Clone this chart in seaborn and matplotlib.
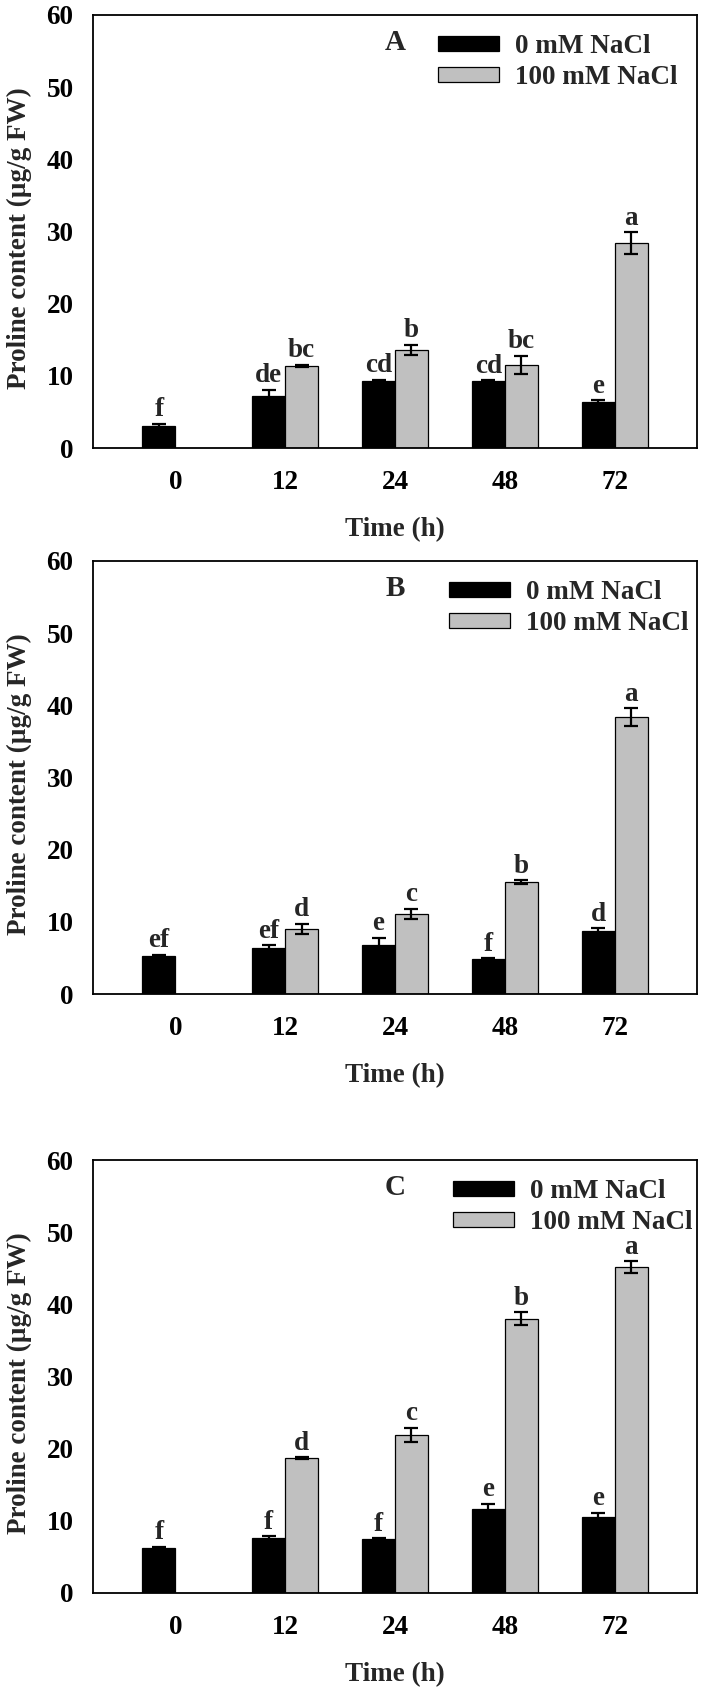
import numpy as np
import pandas as pd
import matplotlib
matplotlib.use("Agg")
import matplotlib.pyplot as plt
import matplotlib.transforms as mtransforms
from matplotlib.patches import Patch
import seaborn as sns

# ---------------- data ----------------
times = ["0", "12", "24", "48", "72"]
treatments = ["0 mM NaCl", "100 mM NaCl"]
panel_names = ["A", "B", "C"]

# panel A
a_ctrl = [3.1, 7.2, 9.25, 9.25, 6.4]
a_ctrl_err = [0.25, 0.9, 0.2, 0.15, 0.2]
a_ctrl_lbl = ["f", "de", "cd", "cd", "e"]
a_salt = [None, 11.4, 13.6, 11.5, 28.4]
a_salt_err = [None, 0.15, 0.7, 1.3, 1.5]
a_salt_lbl = [None, "bc", "b", "bc", "a"]

# panel B
b_ctrl = [5.3, 6.4, 6.8, 4.85, 8.75]
b_ctrl_err = [0.12, 0.35, 1.0, 0.15, 0.35]
b_ctrl_lbl = ["ef", "ef", "e", "f", "d"]
b_salt = [None, 9.05, 11.1, 15.5, 38.4]
b_salt_err = [None, 0.7, 0.7, 0.3, 1.2]
b_salt_lbl = [None, "d", "c", "b", "a"]

# panel C
c_ctrl = [6.3, 7.6, 7.45, 11.6, 10.6]
c_ctrl_err = [0.1, 0.25, 0.15, 0.8, 0.55]
c_ctrl_lbl = ["f", "f", "f", "e", "e"]
c_salt = [None, 18.7, 21.9, 38.0, 45.2]
c_salt_err = [None, 0.15, 1.0, 0.9, 0.8]
c_salt_lbl = [None, "d", "c", "b", "a"]

panels = [
    (a_ctrl, a_ctrl_err, a_ctrl_lbl, a_salt, a_salt_err, a_salt_lbl),
    (b_ctrl, b_ctrl_err, b_ctrl_lbl, b_salt, b_salt_err, b_salt_lbl),
    (c_ctrl, c_ctrl_err, c_ctrl_lbl, c_salt, c_salt_err, c_salt_lbl),
]

colors = {"0 mM NaCl": "#000000", "100 mM NaCl": "#c0c0c0"}

# ---------------- style ----------------
sns.set_style("white")
plt.rcParams["font.family"] = ["Liberation Serif", "DejaVu Serif"]
plt.rcParams["font.weight"] = "bold"
plt.rcParams["axes.labelweight"] = "bold"
plt.rcParams["axes.linewidth"] = 1.3

FS = 19.5

fig = plt.figure(figsize=(7.06, 16.95), dpi=100)
W, H = 706.0, 1695.0
left_px, right_px = 93, 697
axes_px = [(15, 448), (561, 994), (1160, 1593)]
legend_x = [0.571, 0.589, 0.596]

for i, (ctrl, ctrl_err, ctrl_lbl, salt, salt_err, salt_lbl) in enumerate(panels):
    top, bot = axes_px[i]
    ax = fig.add_axes([left_px / W, (H - bot) / H, (right_px - left_px) / W, (bot - top) / H])

    rows = []
    lookup = {}
    for j, t in enumerate(times):
        rows.append({"time": t, "treatment": treatments[0], "value": ctrl[j]})
        lookup[(0, j)] = (ctrl[j], ctrl_err[j], ctrl_lbl[j])
        if salt[j] is not None:
            rows.append({"time": t, "treatment": treatments[1], "value": salt[j]})
            lookup[(1, j)] = (salt[j], salt_err[j], salt_lbl[j])
    df = pd.DataFrame(rows)

    sns.barplot(data=df, x="time", y="value", hue="treatment", order=times,
                hue_order=treatments, palette=colors, width=0.6, dodge=True,
                edgecolor="black", linewidth=0.9, errorbar=None, legend=False,
                saturation=1, ax=ax)

    bar_containers = list(ax.containers)
    for h, cont in enumerate(bar_containers):
        for p in cont.patches:
            xc = p.get_x() + p.get_width() / 2
            j = int(round(xc))
            if (h, j) not in lookup:
                continue
            v, e, lbl = lookup[(h, j)]
            ax.errorbar(xc, v, yerr=e, fmt="none", ecolor="black",
                        elinewidth=1.6, capsize=5, capthick=1.6, zorder=5)
            ax.annotate(lbl, xy=(xc, v + e), xytext=(0, 10),
                        textcoords="offset points", ha="center", va="center",
                        fontsize=FS, fontweight="bold")

    ax.set_ylim(0, 60)
    ax.set_xlim(-0.75, 4.75)
    ax.set_yticks(np.arange(0, 61, 10))
    ax.tick_params(axis="both", direction="out", length=5, width=1.2,
                   labelsize=FS, colors="black")
    ax.tick_params(axis="x", pad=11)
    ax.tick_params(axis="y", pad=9)
    for s in ax.spines.values():
        s.set_visible(True)
        s.set_color("black")
        s.set_linewidth(1.3)

    ax.set_xlabel("Time (h)", fontsize=FS, labelpad=16)
    ax.set_ylabel("Proline content (µg/g FW)", fontsize=FS)
    ax.yaxis.set_label_coords(-0.101, 0.485)

    trans = mtransforms.blended_transform_factory(ax.transAxes, ax.transData)
    ax.text(0.5, 56.2, panel_names[i], transform=trans, ha="center", va="center",
            fontsize=21, fontweight="bold")

    handles = [Patch(facecolor=colors[t], edgecolor="black", linewidth=0.9) for t in treatments]
    ax.legend(handles=handles, labels=treatments, loc="upper left",
              bbox_to_anchor=(legend_x[i], 0.955), frameon=False, fontsize=FS,
              handlelength=2.25, handleheight=0.48, handletextpad=0.6,
              labelspacing=0.22, borderpad=0, borderaxespad=0)

fig.savefig("out.png", dpi=100)
